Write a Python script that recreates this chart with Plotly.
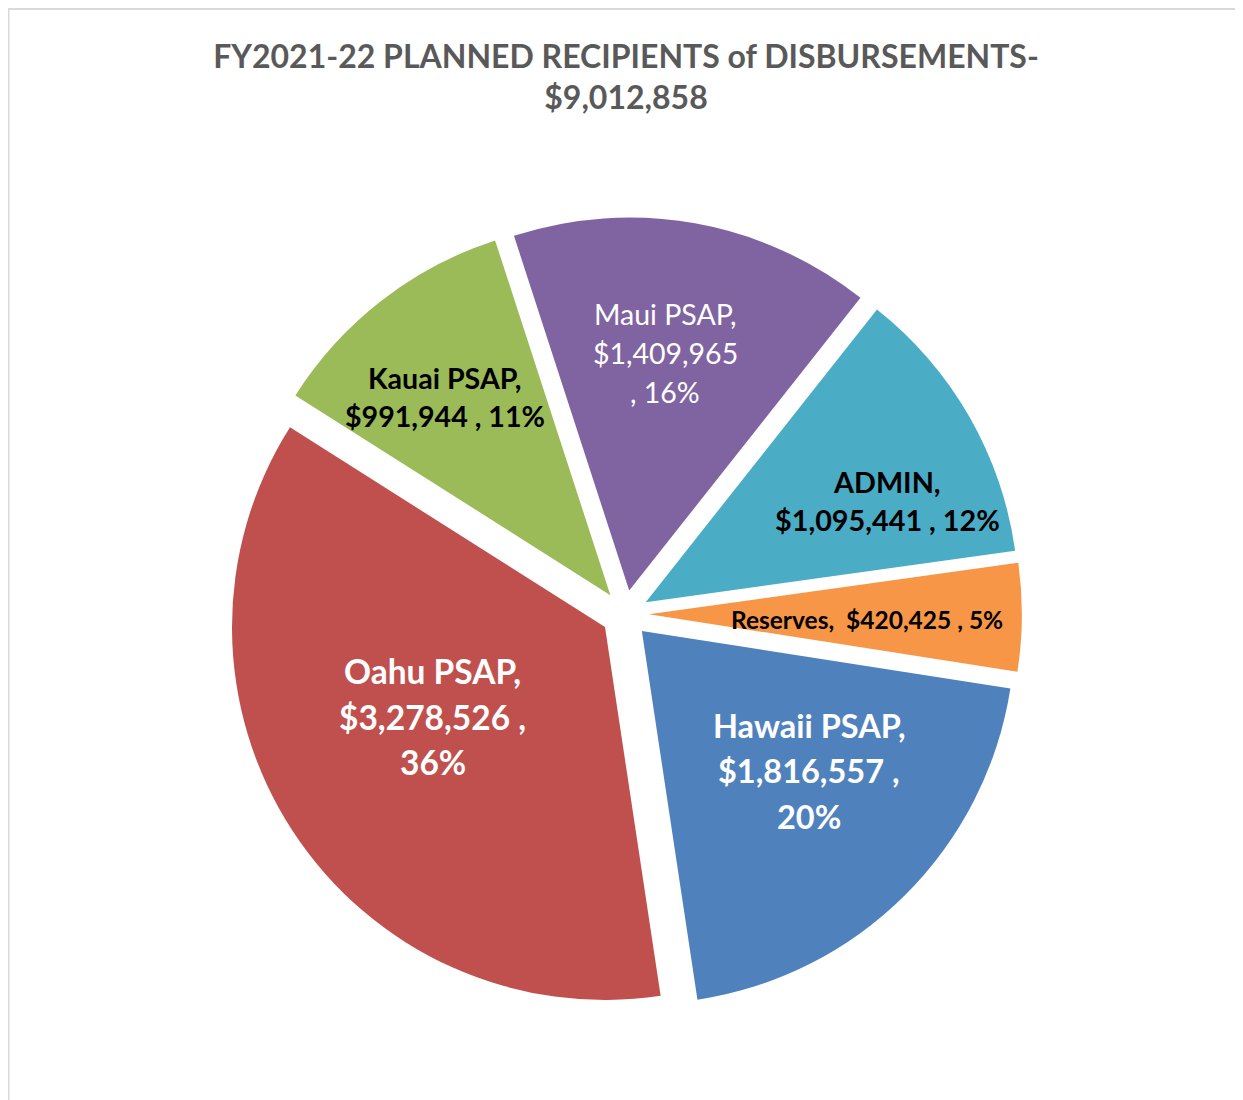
import plotly.graph_objects as go

W, H = 1243, 1100
OFF = 8  # page body margin: screen px = figure px + OFF

# data, clockwise from the top of the pie
recipients = ["Maui PSAP", "ADMIN", "Reserves", "Hawaii PSAP", "Oahu PSAP", "Kauai PSAP"]
amounts = [1409965, 1095441, 420425, 1816557, 3278526, 991944]
total = sum(amounts)

slice_colors = ["#8064A2", "#4BACC6", "#F79646", "#4F81BD", "#C0504D", "#9BBB59"]

# label layout: line breaks, centre of first line (screen px), line gap, font
label_templates = [
    "{n},|{v}|, {p}",
    "{n},|{v} , {p}",
    "{n},&nbsp; {v} , {p}",
    "{n},|{v} ,|{p}",
    "{n},|{v} ,|{p}",
    "{n},|{v} , {p}",
]
label_pos = [(665, 314), (887, 482), (867, 619), (809, 725), (433, 671), (445, 378)]
label_gap = [39, 38, 0, 45.5, 45.5, 38]
label_size = [28.5, 28.8, 24.5, 32.5, 33.5, 28.6]
label_color = ["white", "black", "black", "white", "white", "black"]
label_bold = [False, True, True, True, True, True]


def sx(px):
    return (px - OFF) / W


def sy(py):
    return 1 - (py - OFF) / H


# pie geometry in screen pixels
cx, cy, R, pull = 625, 614, 373, 0.064
half = R * (1 + pull)

fig = go.Figure(
    go.Pie(
        labels=recipients,
        values=amounts,
        sort=False,
        direction="clockwise",
        rotation=-18,
        pull=pull,
        marker=dict(colors=slice_colors, line=dict(width=0)),
        textinfo="none",
        hovertemplate="%{label}: $%{value:,} (%{percent})<extra></extra>",
        showlegend=False,
        domain=dict(x=[sx(cx - half), sx(cx + half)], y=[sy(cy + half), sy(cy - half)]),
    )
)

annotations = []
for i, name in enumerate(recipients):
    amt = amounts[i]
    txt = label_templates[i].format(n=name, v=f"${amt:,}", p=f"{round(amt / total * 100)}%")
    x0, y0 = label_pos[i]
    for k, line in enumerate(txt.split("|")):
        if label_bold[i]:
            line = f"<b>{line}</b>"
        annotations.append(
            dict(
                x=sx(x0), y=sy(y0 + k * label_gap[i]), xref="paper", yref="paper",
                text=line, showarrow=False,
                font=dict(color=label_color[i], size=label_size[i], family="Lato"),
                xanchor="center", yanchor="middle",
            )
        )

fig.update_layout(
    width=W,
    height=H,
    margin=dict(l=0, r=0, t=0, b=0),
    paper_bgcolor="white",
    plot_bgcolor="white",
    title=dict(
        text=f"<b>FY2021-22 PLANNED RECIPIENTS of DISBURSEMENTS-<br>${total:,}</b>",
        x=sx(626), xanchor="center",
        y=sy(67.5), yanchor="middle",
        font=dict(family="Lato", size=32, color="#595959"),
    ),
    annotations=annotations,
    shapes=[
        dict(
            type="rect", xref="paper", yref="paper",
            x0=0.5 / W, x1=1.2, y0=sy(9), y1=-0.2,
            line=dict(color="#D9D9D9", width=2),
        )
    ],
)

fig.write_html("out.html")
